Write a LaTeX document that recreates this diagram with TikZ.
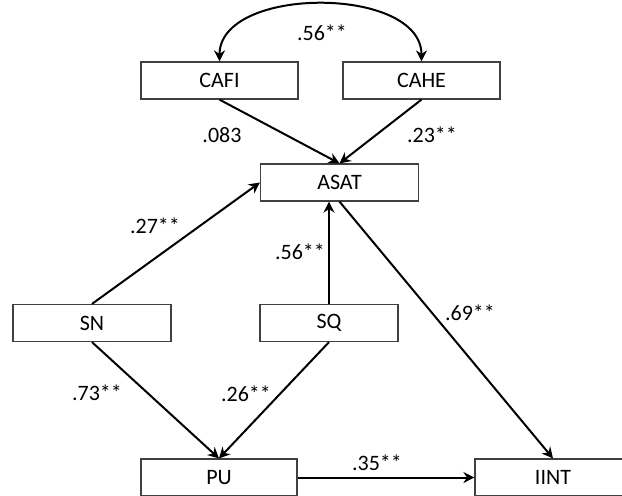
\documentclass[tikz,border=0pt]{standalone}
\usepackage{fontspec}
\setmainfont{Carlito}
\usetikzlibrary{arrows.meta,positioning}

\begin{document}
\begin{tikzpicture}[x=0.5pt,y=-0.5pt,font=\fontsize{11}{13}\selectfont,
  box/.style={draw=black!75,line width=0.6pt,rectangle,minimum height=18.5pt,inner sep=0pt},
  arr/.style={-{Stealth[length=5.5pt,width=5.5pt]},line width=1pt},
  cor/.style={{Stealth[length=5.5pt,width=5.5pt]}-{Stealth[length=5.5pt,width=5.5pt]},line width=1pt},
  lbl/.style={inner sep=0pt},
]
  \useasboundingbox (0,0) rectangle (622,495);

  % constructs
  \foreach \n/\name/\x/\y/\w in {cafi/CAFI/219.5/80.5/78.5,cahe/CAHE/421.5/80.5/78.5,asat/ASAT/339.5/182.5/79,sn/SN/92/323/79,sq/SQ/329/323/69,pu/PU/219/477.5/78,iint/IINT/553/477.5/78} {
    \node[box,minimum width=\w pt] (\n) at (\x,\y) {\name};
  }

  % paths
  \draw[cor] (cafi.north) .. controls +(0,-76) and +(0,-76) .. (cahe.north);
  \draw[arr] (cafi.south) -- (asat.north);
  \draw[arr] (cahe.south) -- (asat.north);
  \draw[arr] (sn.north) -- (asat.west);
  \draw[arr] (sq.north) -- (sq.north |- asat.south);
  \draw[arr] (asat.south) -- (iint.north);
  \draw[arr] (sn.south) -- (pu.north);
  \draw[arr] (sq.south) -- (pu.north);
  \draw[arr] (pu.east) -- (iint.west);

  % coefficients
  \foreach \n/\t/\x/\y in {c1/.56**/322/33,c2/.083/222/135,c3/.23**/432/135,c4/.27**/155/226,c5/.56**/300/252,c6/.69**/470/313,c7/.73**/97/393,c8/.26**/246/394,c9/.35**/377/463} {
    \node[lbl] (\n) at (\x,\y) {\t};
  }
\end{tikzpicture}
\end{document}
